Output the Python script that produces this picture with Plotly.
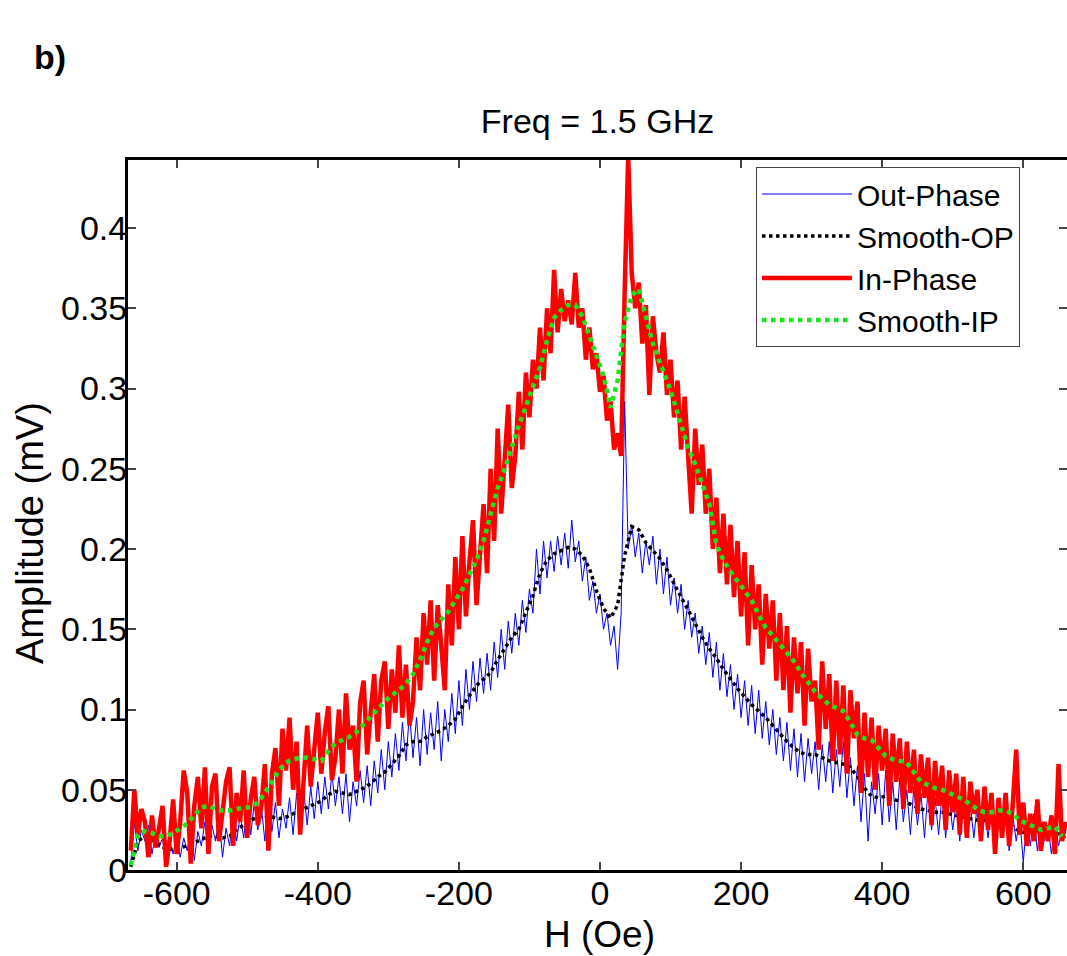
import numpy as np
import plotly.graph_objects as go

# ---------------- data ----------------
H_START_RAW = -665
H_STEP_RAW = 5
H_START_SMOOTH = -665
H_STEP_SMOOTH = 10

out_phase = [
    0.005, 0.030, 0.012, 0.025, 0.018, 0.028, 0.010, 0.022, 0.014, 0.020,
    0.005, 0.018, 0.010, 0.022, 0.008, 0.020, 0.012, 0.025, 0.006, 0.024,
    0.015, 0.030, 0.012, 0.028, 0.018, 0.032, 0.008, 0.026, 0.015, 0.035,
    0.018, 0.034, 0.020, 0.040, 0.022, 0.042, 0.025, 0.040, 0.018, 0.045,
    0.024, 0.042, 0.020, 0.038, 0.026, 0.045, 0.022, 0.048, 0.030, 0.050,
    0.028, 0.052, 0.032, 0.055, 0.035, 0.058, 0.038, 0.060, 0.040, 0.058,
    0.035, 0.060, 0.030, 0.055, 0.040, 0.062, 0.042, 0.065, 0.040, 0.068,
    0.048, 0.075, 0.050, 0.080, 0.058, 0.085, 0.062, 0.092, 0.068, 0.098,
    0.070, 0.095, 0.065, 0.100, 0.072, 0.098, 0.075, 0.105, 0.068, 0.100,
    0.080, 0.110, 0.085, 0.118, 0.090, 0.125, 0.100, 0.130, 0.105, 0.132,
    0.110, 0.135, 0.112, 0.142, 0.120, 0.150, 0.125, 0.155, 0.135, 0.160,
    0.140, 0.168, 0.148, 0.175, 0.160, 0.200, 0.172, 0.205, 0.182, 0.205,
    0.186, 0.208, 0.190, 0.210, 0.188, 0.218, 0.192, 0.205, 0.180, 0.195,
    0.168, 0.180, 0.160, 0.172, 0.150, 0.160, 0.140, 0.152, 0.125, 0.160,
    0.292, 0.200, 0.215, 0.195, 0.210, 0.185, 0.205, 0.190, 0.208, 0.178,
    0.200, 0.172, 0.195, 0.165, 0.182, 0.160, 0.178, 0.150, 0.168, 0.145,
    0.160, 0.135, 0.152, 0.128, 0.148, 0.120, 0.142, 0.112, 0.135, 0.108,
    0.128, 0.100, 0.122, 0.095, 0.118, 0.090, 0.115, 0.085, 0.112, 0.082,
    0.105, 0.078, 0.100, 0.072, 0.095, 0.068, 0.092, 0.062, 0.088, 0.058,
    0.085, 0.055, 0.082, 0.060, 0.080, 0.050, 0.078, 0.055, 0.080, 0.048,
    0.075, 0.052, 0.080, 0.045, 0.070, 0.040, 0.065, 0.030, 0.060, 0.018,
    0.055, 0.035, 0.060, 0.028, 0.062, 0.030, 0.055, 0.025, 0.058, 0.030,
    0.050, 0.022, 0.052, 0.028, 0.048, 0.020, 0.050, 0.025, 0.045, 0.022,
    0.048, 0.020, 0.045, 0.025, 0.042, 0.018, 0.045, 0.022, 0.040, 0.020,
    0.042, 0.018, 0.040, 0.020, 0.038, 0.015, 0.036, 0.020, 0.038, 0.012,
    0.035, 0.018, 0.032, 0.005, 0.030, 0.015, 0.035, 0.012, 0.030, 0.018,
    0.028, 0.010, 0.030, 0.015, 0.025, 0.020,
]

in_phase = [
    0.012, 0.050, 0.022, 0.038, 0.030, 0.008, 0.034, 0.014, 0.026, 0.040,
    0.002, 0.018, 0.044, 0.010, 0.030, 0.062, 0.048, 0.004, 0.040, 0.058,
    0.026, 0.064, 0.010, 0.052, 0.060, 0.018, 0.036, 0.055, 0.064, 0.015,
    0.048, 0.030, 0.062, 0.020, 0.044, 0.058, 0.028, 0.040, 0.066, 0.012,
    0.060, 0.076, 0.040, 0.088, 0.062, 0.095, 0.050, 0.080, 0.022, 0.060,
    0.090, 0.052, 0.078, 0.098, 0.060, 0.086, 0.102, 0.056, 0.070, 0.100,
    0.060, 0.110, 0.075, 0.090, 0.055, 0.104, 0.118, 0.072, 0.098, 0.122,
    0.080, 0.118, 0.130, 0.088, 0.125, 0.098, 0.140, 0.095, 0.128, 0.090,
    0.105, 0.145, 0.112, 0.160, 0.128, 0.168, 0.118, 0.165, 0.140, 0.112,
    0.178, 0.140, 0.195, 0.150, 0.208, 0.158, 0.192, 0.218, 0.165, 0.200,
    0.228, 0.185, 0.250, 0.205, 0.275, 0.222, 0.262, 0.290, 0.238, 0.258,
    0.298, 0.262, 0.310, 0.282, 0.318, 0.300, 0.338, 0.305, 0.350, 0.322,
    0.374, 0.335, 0.362, 0.342, 0.355, 0.340, 0.372, 0.338, 0.350, 0.318,
    0.338, 0.312, 0.322, 0.298, 0.308, 0.280, 0.292, 0.262, 0.272, 0.258,
    0.360, 0.445, 0.372, 0.350, 0.366, 0.328, 0.352, 0.296, 0.345, 0.322,
    0.310, 0.335, 0.296, 0.318, 0.282, 0.305, 0.262, 0.295, 0.258, 0.222,
    0.275, 0.240, 0.265, 0.222, 0.250, 0.200, 0.232, 0.185, 0.222, 0.178,
    0.215, 0.170, 0.205, 0.158, 0.198, 0.140, 0.190, 0.150, 0.178, 0.128,
    0.172, 0.138, 0.168, 0.118, 0.160, 0.112, 0.152, 0.098, 0.145, 0.110,
    0.142, 0.090, 0.138, 0.105, 0.118, 0.075, 0.130, 0.088, 0.122, 0.068,
    0.118, 0.072, 0.115, 0.060, 0.112, 0.082, 0.105, 0.048, 0.098, 0.058,
    0.095, 0.050, 0.090, 0.062, 0.088, 0.040, 0.085, 0.055, 0.082, 0.038,
    0.080, 0.048, 0.075, 0.035, 0.072, 0.045, 0.070, 0.028, 0.068, 0.040,
    0.065, 0.025, 0.062, 0.036, 0.060, 0.022, 0.058, 0.020, 0.055, 0.035,
    0.050, 0.018, 0.052, 0.025, 0.048, 0.010, 0.045, 0.020, 0.048, 0.015,
    0.040, 0.075, 0.022, 0.042, 0.015, 0.035, 0.018, 0.044, 0.012, 0.030,
    0.018, 0.034, 0.010, 0.066, 0.018, 0.030,
]

smooth_op = [
    0.002, 0.018, 0.021, 0.019, 0.016, 0.013, 0.013, 0.014, 0.015, 0.017,
    0.019, 0.021, 0.021, 0.020, 0.021, 0.025, 0.028, 0.031, 0.033, 0.034,
    0.033, 0.032, 0.033, 0.035, 0.037, 0.039, 0.041, 0.043, 0.047, 0.049,
    0.048, 0.047, 0.049, 0.051, 0.054, 0.058, 0.061, 0.066, 0.071, 0.078,
    0.080, 0.080, 0.083, 0.085, 0.087, 0.090, 0.094, 0.102, 0.109, 0.115,
    0.119, 0.123, 0.131, 0.138, 0.145, 0.150, 0.160, 0.171, 0.185, 0.193,
    0.197, 0.199, 0.201, 0.200, 0.196, 0.188, 0.174, 0.163, 0.157, 0.165,
    0.196, 0.214, 0.212, 0.204, 0.199, 0.194, 0.187, 0.178, 0.170, 0.162,
    0.153, 0.145, 0.138, 0.132, 0.125, 0.119, 0.113, 0.108, 0.103, 0.099,
    0.095, 0.090, 0.085, 0.080, 0.076, 0.073, 0.072, 0.072, 0.070, 0.068,
    0.067, 0.066, 0.064, 0.058, 0.051, 0.046, 0.045, 0.046, 0.044, 0.043,
    0.042, 0.040, 0.038, 0.037, 0.036, 0.036, 0.035, 0.034, 0.033, 0.032,
    0.031, 0.031, 0.030, 0.029, 0.029, 0.027, 0.024, 0.023, 0.024, 0.025,
    0.024, 0.023, 0.022,
]

smooth_ip = [
    0.003, 0.022, 0.024, 0.023, 0.021, 0.021, 0.023, 0.026, 0.029, 0.034,
    0.039, 0.040, 0.038, 0.037, 0.037, 0.038, 0.039, 0.039, 0.042, 0.048,
    0.055, 0.062, 0.067, 0.069, 0.070, 0.070, 0.069, 0.068, 0.074, 0.079,
    0.081, 0.083, 0.086, 0.091, 0.096, 0.100, 0.105, 0.109, 0.112, 0.116,
    0.122, 0.131, 0.142, 0.151, 0.156, 0.161, 0.168, 0.175, 0.184, 0.193,
    0.205, 0.222, 0.238, 0.250, 0.264, 0.277, 0.289, 0.301, 0.313, 0.330,
    0.344, 0.349, 0.352, 0.352, 0.345, 0.333, 0.320, 0.308, 0.288, 0.305,
    0.341, 0.358, 0.362, 0.344, 0.328, 0.316, 0.305, 0.292, 0.277, 0.263,
    0.253, 0.240, 0.228, 0.203, 0.193, 0.186, 0.180, 0.175, 0.168, 0.159,
    0.151, 0.146, 0.141, 0.136, 0.130, 0.123, 0.117, 0.111, 0.107, 0.103,
    0.101, 0.099, 0.092, 0.084, 0.082, 0.081, 0.076, 0.071, 0.069, 0.068,
    0.067, 0.061, 0.055, 0.053, 0.051, 0.050, 0.048, 0.046, 0.044, 0.041,
    0.038, 0.036, 0.036, 0.037, 0.037, 0.035, 0.031, 0.029, 0.027, 0.025,
    0.026, 0.027, 0.021,
]

x_ticks = [-600, -400, -200, 0, 200, 400, 600]
x_tick_text = ["-600", "-400", "-200", "0", "200", "400", "600"]
y_ticks = [0, 0.05, 0.1, 0.15, 0.2, 0.25, 0.3, 0.35, 0.4]
y_tick_text = ["0", "0.05", "0.1", "0.15", "0.2", "0.25", "0.3", "0.35", "0.4"]

H_raw = H_START_RAW + H_STEP_RAW * np.arange(len(in_phase))
H_raw_op = H_START_RAW + H_STEP_RAW * np.arange(len(out_phase))
H_smooth_ip = H_START_SMOOTH + H_STEP_SMOOTH * np.arange(len(smooth_ip))
H_smooth_op = H_START_SMOOTH + H_STEP_SMOOTH * np.arange(len(smooth_op))

FONT = "Arial, Liberation Sans, Helvetica, sans-serif"
W, HGT = 1067, 956
ML, MR, MT, MB = 128, 0, 160, 86
PW, PH = W - ML - MR, HGT - MT - MB


def px_to_paper(xp, yp):
    return (xp - ML) / PW, (HGT - MB - yp) / PH


fig = go.Figure()
fig.add_trace(go.Scatter(x=H_raw_op, y=out_phase, mode="lines", name="Out-Phase",
                         line=dict(color="rgb(0,0,255)", width=1)))
fig.add_trace(go.Scatter(x=H_smooth_op, y=smooth_op, mode="lines", name="Smooth-OP",
                         line=dict(color="black", width=3.5, dash="dot")))
fig.add_trace(go.Scatter(x=H_raw, y=in_phase, mode="lines", name="In-Phase",
                         line=dict(color="rgb(255,0,0)", width=4.5)))
fig.add_trace(go.Scatter(x=H_smooth_ip, y=smooth_ip, mode="lines", name="Smooth-IP",
                         line=dict(color="rgb(25,230,25)", width=4.5, dash="dot")))

bx, by = px_to_paper(50, 57)
xlx, xly = px_to_paper(599, 934)
ylx, yly = px_to_paper(30, 533)
lgx, lgy = px_to_paper(756, 167)

fig.update_layout(
    width=W, height=HGT,
    margin=dict(l=ML, r=MR, t=MT, b=MB, autoexpand=False),
    paper_bgcolor="white", plot_bgcolor="white",
    font=dict(family=FONT, color="black", size=34),
    title=dict(text="Freq = 1.5 GHz", x=0.5, xref="paper", xanchor="center",
               y=1 - 121 / HGT, yanchor="middle", font=dict(size=34)),
    showlegend=True,
    legend=dict(x=lgx, y=lgy, xanchor="left", yanchor="top",
                bgcolor="white", bordercolor="#444", borderwidth=1,
                font=dict(size=30), tracegroupgap=0, itemwidth=90),
    annotations=[
        dict(text="<b>b)</b>", xref="paper", yref="paper", x=bx, y=by,
             xanchor="center", yanchor="middle", showarrow=False,
             font=dict(size=34)),
        dict(text="H (Oe)", xref="paper", yref="paper", x=xlx, y=xly,
             xanchor="center", yanchor="middle", showarrow=False,
             font=dict(size=37)),
        dict(text="Amplitude (mV)", xref="paper", yref="paper", x=ylx, y=yly,
             xanchor="center", yanchor="middle", showarrow=False, textangle=-90,
             font=dict(size=38)),
    ],
)

fig.update_xaxes(
    range=[-669, 662], tickvals=x_ticks, ticktext=x_tick_text,
    ticks="inside", ticklen=8, tickwidth=2, ticklabelstandoff=-9,
    showline=True, linecolor="black", linewidth=3, mirror="ticks",
    showgrid=False, zeroline=False, tickfont=dict(size=34), automargin=False,
)
fig.update_yaxes(
    range=[0, 0.4424], tickvals=y_ticks, ticktext=y_tick_text,
    ticks="inside", ticklen=8, tickwidth=2, ticklabelstandoff=-9,
    showline=True, linecolor="black", linewidth=3, mirror="ticks",
    showgrid=False, zeroline=False, tickfont=dict(size=34), automargin=False,
)

fig.write_html(
    "out.html",
    config={"displayModeBar": False},
    post_script="document.body.style.margin='0';document.body.style.overflow='hidden';",
)
